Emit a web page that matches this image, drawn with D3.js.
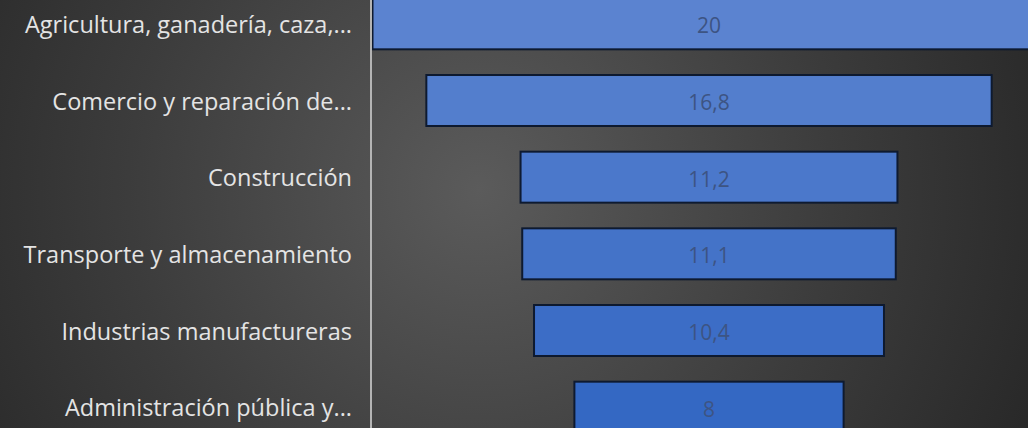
<!DOCTYPE html>
<html>
<head>
<meta charset="utf-8">
<script src="https://cdn.jsdelivr.net/npm/d3@7"></script>
<style>
  html, body { margin: 0; padding: 0; background: #2a2a2a; }
  svg { display: block; }
</style>
</head>
<body>
<svg id="chart" width="1028" height="428"></svg>
<script>
// Datos del embudo
const categories = [
  "Agricultura, ganadería, caza,...",
  "Comercio y reparación de...",
  "Construcción",
  "Transporte y almacenamiento",
  "Industrias manufactureras",
  "Administración pública y..."
];
const values = [20, 16.8, 11.2, 11.1, 10.4, 8];
const valueLabels = ["20", "16,8", "11,2", "11,1", "10,4", "8"];

const svg = d3.select("#chart");
const width = +svg.attr("width");
const height = +svg.attr("height");

// Fondo con degradado radial
const defs = svg.append("defs");
const grad = defs.append("radialGradient")
  .attr("id", "bg")
  .attr("gradientUnits", "userSpaceOnUse")
  .attr("cx", 480).attr("cy", 190).attr("r", 640);
grad.append("stop").attr("offset", "0%").attr("stop-color", "#5b5b5b");
grad.append("stop").attr("offset", "55%").attr("stop-color", "#3c3c3c");
grad.append("stop").attr("offset", "100%").attr("stop-color", "#252525");

svg.append("rect")
  .attr("width", width).attr("height", height)
  .attr("fill", "url(#bg)");

// Escalas
const axisX = 372;
const centerX = 709;
const xScale = d3.scaleLinear().domain([0, 20]).range([0, 673]);
const yScale = d3.scaleBand()
  .domain(categories)
  .range([-14.5, 445.5])
  .paddingInner(0.335)
  .paddingOuter(0.1675);

const color = d3.scaleLinear()
  .domain([0, categories.length - 1])
  .range(["#5b83d0", "#3468c3"]);

// Zona recortada a la derecha del eje
defs.append("clipPath").attr("id", "plot")
  .append("rect")
  .attr("x", axisX).attr("y", 0)
  .attr("width", width - axisX).attr("height", height);

const plot = svg.append("g").attr("clip-path", "url(#plot)");

const rows = plot.selectAll("g.row")
  .data(categories)
  .join("g")
  .attr("class", "row");

rows.append("rect")
  .attr("x", (d, i) => centerX - xScale(values[i]) / 2)
  .attr("y", d => yScale(d))
  .attr("width", (d, i) => xScale(values[i]))
  .attr("height", yScale.bandwidth())
  .attr("fill", (d, i) => color(i))
  .attr("stroke", "#0e1a30")
  .attr("stroke-width", 2);

rows.append("text")
  .attr("x", centerX)
  .attr("y", d => yScale(d) + yScale.bandwidth() / 2 + 2)
  .attr("dy", "0.35em")
  .attr("text-anchor", "middle")
  .attr("fill", "#3d5483")
  .style("font-family", "'Open Sans', 'Noto Sans', sans-serif")
  .style("font-size", "21px")
  .text((d, i) => valueLabels[i]);

// Etiquetas de categoría
svg.append("g")
  .selectAll("text")
  .data(categories)
  .join("text")
  .attr("x", axisX - 20)
  .attr("y", d => yScale(d) + yScale.bandwidth() / 2 + 1)
  .attr("dy", "0.35em")
  .attr("text-anchor", "end")
  .attr("fill", "#e4e4e4")
  .style("font-family", "'Open Sans', 'Noto Sans', sans-serif")
  .style("font-size", "23.5px")
  .text(d => d);

// Línea del eje
svg.append("line")
  .attr("x1", axisX - 1).attr("x2", axisX - 1)
  .attr("y1", 0).attr("y2", height)
  .attr("stroke", "#b4b4b4")
  .attr("stroke-width", 2);
</script>
</body>
</html>
